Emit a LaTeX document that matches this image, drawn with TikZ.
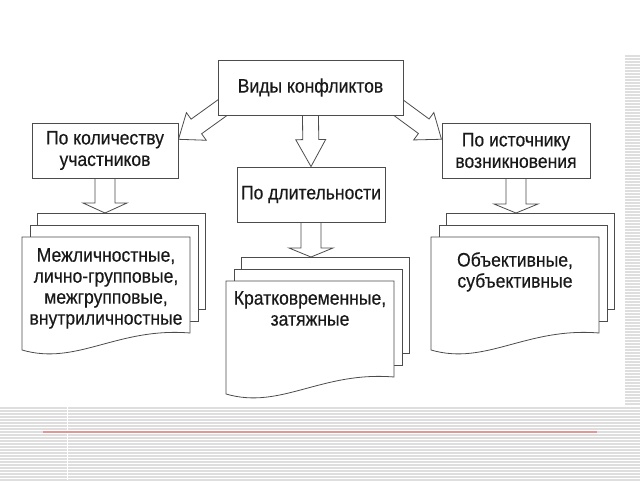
\documentclass[tikz,border=0pt]{standalone}
\usepackage{fontspec}
\setmainfont[FakeStretch=0.9, FakeBold=0.4]{Liberation Sans}
\usetikzlibrary{calc}
\pgfdeclarelayer{background}
\pgfsetlayers{background,main}
\definecolor{rulered}{RGB}{226,150,150}

\tikzset{
  box/.style={draw=black!70, line width=0.9pt, fill=white, align=center, inner sep=0pt,
    text=black!90, font=\fontsize{19.5}{21.5}\selectfont},
  sheet/.style={draw=black!70, line width=0.8pt, fill=white},
  fat/.style={draw=black!70, line width=0.8pt, fill=white, line join=miter},
  listtext/.style={align=center, text=black!90, inner sep=0pt, anchor=north,
    font=\fontsize{19.5}{21}\selectfont},
  stripe/.style={draw=black!13, line width=1.2pt}
}

% block arrow: from, to, shaft half width, head half width, head length
\newcommand{\fatarrow}[5]{%
  \draw[fat] let \p1=($(#2)-(#1)$), \n1={atan2(\y1,\x1)}, \n2={veclen(\x1,\y1)} in
    [shift={(#1)}, rotate=\n1]
    (0pt,-#3) -- ({\n2-#5},-#3) -- ({\n2-#5},-#4) -- (\n2,0pt) -- ({\n2-#5},#4)
    -- ({\n2-#5},#3) -- (0pt,#3) -- cycle;}

% stack of three sheets: name of back sheet, top left of front sheet, text offset, text
\newcommand{\docstack}[4]{%
  \begin{scope}[shift={#2}]
    \node[sheet, anchor=north west, minimum width=168pt, minimum height=96pt] (#1) at (15,-24) {};
    \draw[sheet] (8,-12) rectangle (176,84);
    \draw[sheet] (0,0) -- (168,0) -- (168,96) .. controls (95,90) and (55,129) .. (0,113) -- cycle;
    \node[listtext] (#1-text) at (84,#3) {#4};
  \end{scope}}

\begin{document}
\begin{tikzpicture}[x=1pt,y=-1pt]
\useasboundingbox (0,0) rectangle (640,480);

\node[box, minimum width=185pt, minimum height=55pt] (types) at (310.5,87.5) {Виды конфликтов};
\node[box, minimum width=146pt, minimum height=55pt] (count) at (105,150.5) {По количеству\\участников};
\node[box, minimum width=148pt, minimum height=55pt] (length) at (311,194.5) {По длительности};
\node[box, minimum width=148pt, minimum height=55pt] (source) at (516,150.5) {По источнику\\возникновения};

\docstack{countdoc}{(22,237)}{11}{Межличностные,\\лично-групповые,\\межгрупповые,\\внутриличностные}
\docstack{lengthdoc}{(226,281)}{10}{Кратковременные,\\затяжные}
\docstack{sourcedoc}{(431,237)}{15}{Объективные,\\субъективные}

\coordinate (lt) at ($(types.south west)+(8,-10)$);
\coordinate (lh) at ($(count.north east)!0.3!(count.south east)$);
\coordinate (rt) at ($(types.south east)+(-8,-10)$);
\coordinate (rh) at ($(source.north west)!0.3!(source.south west)$);
\coordinate (ch) at (count.south |- countdoc.north);
\coordinate (mh) at (length.south |- lengthdoc.north);
\coordinate (sh) at (source.south |- sourcedoc.north);

\begin{pgfonlayer}{background}
\foreach \y in {408,411,...,480} \draw[stripe] (0,\y) -- (640,\y);
\foreach \y in {56,59,...,405} \draw[stripe] (625,\y) -- (640,\y);
\draw[white, line width=1pt] (67,407) -- (67,480);
\fatarrow{lt}{lh}{9pt}{17pt}{22pt}
\fatarrow{rt}{rh}{9pt}{17pt}{22pt}
\fatarrow{types.south}{length.north}{8pt}{15pt}{27pt}
\fatarrow{count.south}{ch}{10pt}{22pt}{10pt}
\fatarrow{length.south}{mh}{10pt}{22pt}{9pt}
\fatarrow{source.south}{sh}{10pt}{22pt}{9pt}
\end{pgfonlayer}

\draw[rulered, line width=2pt] (43,432) -- (597,432);
\end{tikzpicture}
\end{document}
